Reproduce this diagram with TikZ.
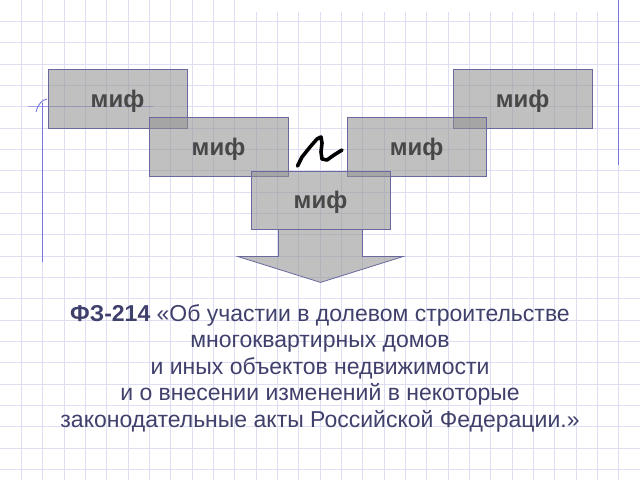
\documentclass[tikz,border=0pt]{standalone}
\usepackage{fontspec}
\setmainfont{Liberation Sans}
\definecolor{gridc}{RGB}{222,222,242}
\definecolor{marginc}{RGB}{118,118,222}
\definecolor{boxfill}{RGB}{145,145,145}
\definecolor{boxline}{RGB}{105,105,160}
\definecolor{mtext}{RGB}{72,72,72}
\definecolor{ttext}{RGB}{64,64,108}
\begin{document}
\begin{tikzpicture}[x=1pt,y=-1pt,
  gridline/.style={draw=gridc, line width=0.8pt},
  marginline/.style={draw=marginc, line width=0.9pt},
  mythbox/.style={draw=boxline, line width=0.8pt, fill=boxfill, fill opacity=0.57, text opacity=1,
    minimum width=139pt, minimum height=59pt, inner sep=0pt,
    font=\fontsize{24}{28}\selectfont\bfseries, text=mtext, text height=19pt, text depth=2pt},
  blockarrow/.style={draw=boxline, line width=0.8pt, fill=boxfill, fill opacity=0.57},
  squiggle/.style={line width=3.6pt, line join=round, line cap=round},
  lawtext/.style={font=\fontsize{23}{26.5}\selectfont, text=ttext, align=center, inner sep=0pt}]
\useasboundingbox (0,0) rectangle (640,480);
\fill[white] (0,0) rectangle (640,480);
% grid paper
\foreach \k in {1,...,11} \draw[gridline] (\k*21.333,0) -- (\k*21.333,480);
\foreach \k in {12,...,29} \draw[gridline] (\k*21.333,12) -- (\k*21.333,480);
\foreach \k in {1,...,22} \draw[gridline] (0,\k*21.333) -- (640,\k*21.333);
% margin lines
\draw[marginline] (42.7,103) -- (42.7,262);
\draw[marginline] (36,112) .. controls (38,104) and (42,100) .. (47,99);
\draw[marginline, draw opacity=0.6] (28,106.7) -- (153,106.7);
\draw[marginline] (618.5,0) -- (618.5,165);
% boxes
\node[mythbox] (b1) at (117.5,98.5) {миф};
\node[mythbox] (b5) at (522.5,98.5) {миф};
\node[mythbox] (b2) at (218.5,146.5) {миф};
\node[mythbox] (b4) at (416.5,146.5) {миф};
\node[mythbox, minimum height=58pt] (b3) at (320.5,200) {миф};
% block arrow
\coordinate (as) at (b3.south);
\draw[blockarrow] (as) ++(-42,0) -- ++(0,27) -- ++(-41,0) -- ++(83,26) -- ++(83,-26) -- ++(-41,0) -- ++(0,-27) -- cycle;
% squiggle
\draw[squiggle] (297.5,166) -- (302,157) -- (310,147) -- (317,139) -- (321,137) -- (322,143) -- (321,152) -- (322,159) -- (327,160) -- (334,155) -- (342,150);
% text
\node[lawtext] (law) at (320,368) {\textbf{ФЗ-214} «Об участии в долевом строительстве\\ многоквартирных домов\\ и иных объектов недвижимости\\ и о внесении изменений в некоторые\\ законодательные акты Российской Федерации.»};
\end{tikzpicture}
\end{document}
